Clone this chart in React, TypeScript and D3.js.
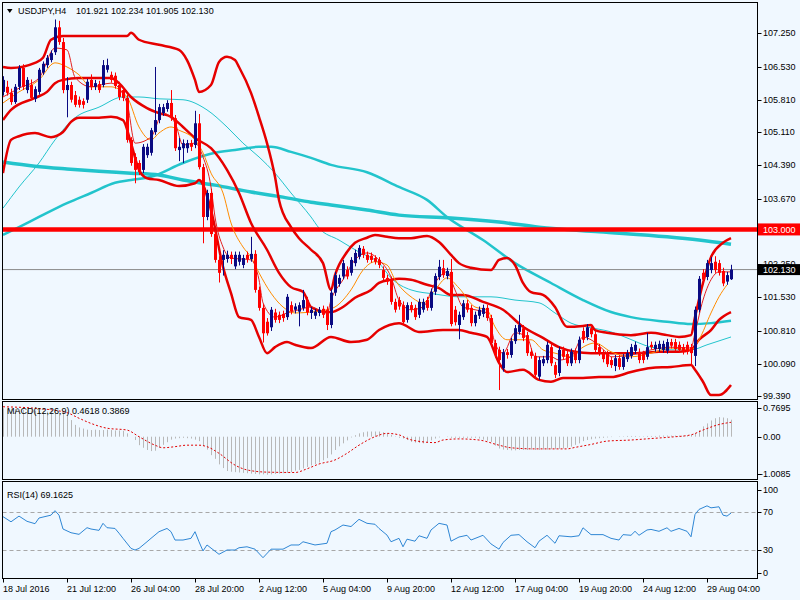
import React from 'react';
import * as d3 from 'd3';

// USDJPY H4, 18 Jul - 30 Aug 2016. candles are [open, high, low, close]
const candles: number[][] = [
  [105.98, 106.32, 105.90, 106.24], [106.09, 106.22, 105.90, 105.96], [105.96, 106.05, 105.70, 105.76], [105.76, 106.15, 105.72, 106.09],
  [106.09, 106.56, 106.02, 106.50], [106.50, 106.58, 106.02, 106.09], [106.02, 106.30, 105.95, 106.24], [106.13, 106.25, 105.80, 105.85],
  [105.83, 106.10, 105.76, 106.04], [105.98, 106.50, 105.92, 106.46], [106.40, 106.64, 106.35, 106.59], [106.56, 106.78, 106.50, 106.72],
  [106.67, 106.88, 106.62, 106.82], [106.84, 107.55, 106.78, 107.38], [107.38, 107.52, 107.00, 107.06], [107.06, 107.15, 105.95, 106.02],
  [106.02, 106.30, 105.43, 106.13], [106.13, 106.20, 105.75, 105.81], [105.91, 106.00, 105.65, 105.70], [105.81, 105.88, 105.64, 105.70],
  [105.78, 105.84, 105.62, 105.70], [105.81, 106.26, 105.74, 106.20], [106.24, 106.36, 106.02, 106.09], [106.09, 106.24, 106.02, 106.17],
  [106.15, 106.22, 105.96, 106.02], [106.13, 106.67, 106.08, 106.56], [106.46, 106.70, 106.40, 106.56], [106.35, 106.42, 106.18, 106.24],
  [106.33, 106.40, 106.05, 106.11], [106.13, 106.20, 105.80, 105.87], [106.02, 106.08, 105.78, 105.85], [105.85, 105.92, 104.88, 104.94],
  [104.94, 105.00, 104.38, 104.44], [104.57, 104.65, 104.00, 104.29], [104.44, 104.50, 104.18, 104.24], [104.29, 104.85, 104.22, 104.79],
  [104.61, 104.86, 104.55, 104.79], [104.66, 105.20, 104.60, 105.15], [105.11, 106.52, 105.05, 105.37], [105.37, 105.72, 105.30, 105.65],
  [105.52, 105.72, 105.46, 105.65], [105.61, 105.80, 105.55, 105.74], [105.74, 106.02, 105.35, 105.41], [105.41, 105.48, 104.70, 104.76],
  [104.72, 104.98, 104.48, 104.79], [104.76, 104.95, 104.44, 104.87], [104.76, 104.94, 104.66, 104.87], [104.87, 104.94, 104.70, 104.79],
  [104.83, 105.57, 104.76, 105.30], [105.30, 105.50, 104.30, 104.35], [104.35, 104.42, 102.70, 103.27], [103.27, 103.86, 103.20, 103.79],
  [103.79, 103.88, 102.84, 102.90], [102.90, 102.97, 102.28, 102.34], [102.34, 102.42, 101.85, 102.06], [102.34, 102.55, 102.00, 102.45],
  [102.36, 102.54, 102.28, 102.45], [102.45, 102.52, 102.25, 102.36], [102.20, 102.52, 102.14, 102.45], [102.30, 102.52, 102.22, 102.45],
  [102.23, 102.45, 102.16, 102.38], [102.45, 102.52, 102.28, 102.36], [102.36, 102.84, 102.30, 102.47], [102.47, 102.55, 101.63, 101.69],
  [101.69, 101.76, 101.24, 101.30], [101.30, 101.38, 100.55, 100.75], [101.00, 101.08, 100.70, 100.75], [100.88, 101.32, 100.80, 101.26],
  [101.20, 101.28, 100.98, 101.04], [101.15, 101.22, 100.97, 101.04], [101.17, 101.24, 101.00, 101.08], [101.10, 101.60, 101.04, 101.54],
  [101.36, 101.44, 101.16, 101.23], [101.26, 101.40, 101.18, 101.33], [101.22, 101.42, 100.90, 101.36], [101.30, 101.69, 101.24, 101.47],
  [101.47, 101.54, 101.14, 101.20], [101.19, 101.32, 101.06, 101.26], [101.13, 101.28, 101.06, 101.22], [101.19, 101.32, 101.12, 101.26],
  [101.28, 101.35, 101.08, 101.15], [101.26, 101.33, 100.82, 100.93], [100.93, 101.70, 100.86, 101.63], [101.63, 102.08, 101.56, 102.01],
  [101.82, 102.02, 101.76, 101.95], [101.98, 102.34, 101.92, 102.27], [102.12, 102.20, 101.92, 101.98], [102.06, 102.40, 102.00, 102.34],
  [102.27, 102.56, 102.20, 102.49], [102.41, 102.66, 102.35, 102.60], [102.58, 102.64, 102.38, 102.45], [102.45, 102.52, 102.28, 102.34],
  [102.43, 102.50, 102.28, 102.34], [102.38, 102.44, 102.24, 102.30], [102.34, 102.40, 102.16, 102.23], [102.12, 102.20, 101.90, 101.95],
  [101.95, 102.02, 101.80, 101.87], [101.91, 101.98, 101.37, 101.43], [101.43, 101.50, 101.20, 101.26], [101.47, 101.54, 101.26, 101.33],
  [101.36, 101.44, 100.92, 100.99], [101.04, 101.42, 100.98, 101.36], [101.36, 101.43, 101.20, 101.26], [101.30, 101.37, 101.04, 101.10],
  [101.15, 101.50, 101.08, 101.43], [101.26, 101.50, 101.20, 101.43], [101.47, 101.54, 101.24, 101.30], [101.30, 101.72, 101.24, 101.65],
  [101.65, 102.05, 101.58, 101.99], [101.97, 102.34, 101.90, 102.19], [102.16, 102.34, 101.95, 102.01], [101.99, 102.17, 101.92, 102.10],
  [102.08, 102.36, 100.90, 100.95], [101.26, 101.34, 100.92, 100.99], [100.93, 101.22, 100.62, 101.15], [101.10, 101.47, 101.04, 101.40],
  [101.40, 101.47, 101.20, 101.26], [101.30, 101.36, 100.90, 100.97], [100.97, 101.22, 100.90, 101.15], [101.13, 101.33, 101.06, 101.26],
  [101.17, 101.37, 101.10, 101.30], [101.30, 101.37, 101.02, 101.08], [101.08, 101.15, 100.48, 100.54], [100.54, 100.61, 100.22, 100.28],
  [100.39, 100.46, 99.52, 100.17], [99.99, 100.41, 99.92, 100.34], [100.34, 100.41, 100.20, 100.28], [100.28, 100.65, 100.22, 100.58],
  [100.58, 100.93, 100.52, 100.86], [100.78, 101.15, 100.72, 100.93], [100.86, 100.93, 100.58, 100.65], [100.71, 100.78, 100.26, 100.32],
  [100.35, 100.42, 100.20, 100.26], [100.26, 100.33, 99.78, 99.85], [99.81, 100.24, 99.74, 100.17], [100.10, 100.26, 100.04, 100.19],
  [100.17, 100.57, 100.10, 100.50], [100.45, 100.52, 100.04, 100.10], [100.06, 100.13, 99.78, 99.85], [99.89, 100.46, 99.82, 100.39],
  [100.39, 100.46, 100.18, 100.24], [100.30, 100.37, 100.04, 100.10], [100.10, 100.42, 100.04, 100.35], [100.35, 100.42, 100.10, 100.17],
  [100.17, 100.68, 100.10, 100.61], [100.80, 100.88, 100.54, 100.61], [100.67, 100.95, 100.60, 100.88], [100.86, 100.93, 100.66, 100.73],
  [100.73, 100.80, 100.33, 100.39], [100.45, 100.52, 100.26, 100.32], [100.32, 100.39, 100.12, 100.19], [100.30, 100.37, 100.02, 100.08],
  [100.17, 100.24, 100.00, 100.06], [100.04, 100.28, 99.93, 100.21], [100.21, 100.28, 99.96, 100.02], [100.02, 100.30, 99.96, 100.24],
  [100.19, 100.39, 100.13, 100.32], [100.26, 100.52, 100.20, 100.45], [100.37, 100.57, 100.30, 100.50], [100.35, 100.42, 100.10, 100.17],
  [100.30, 100.37, 100.10, 100.17], [100.24, 100.76, 100.18, 100.45], [100.50, 100.57, 100.40, 100.45], [100.41, 100.57, 100.35, 100.50],
  [100.41, 100.59, 100.35, 100.52], [100.39, 100.59, 100.33, 100.52], [100.37, 100.63, 100.31, 100.56], [100.56, 100.63, 100.42, 100.48],
  [100.56, 100.63, 100.35, 100.41], [100.50, 100.57, 100.33, 100.39], [100.45, 100.52, 100.29, 100.35], [100.50, 100.57, 100.29, 100.35],
  [100.45, 100.52, 100.05, 100.32], [100.26, 101.33, 100.04, 101.26], [101.26, 101.99, 101.20, 101.93], [102.06, 102.14, 101.85, 101.91],
  [101.97, 102.34, 101.90, 102.27], [102.12, 102.40, 102.05, 102.27], [102.30, 102.42, 102.06, 102.12], [102.27, 102.34, 102.00, 102.06],
  [102.10, 102.17, 101.77, 101.83], [101.87, 102.08, 101.80, 102.01], [101.921, 102.234, 101.905, 102.130],
];

// indicator lines, read as [bar index, price]
const bbUpper = [
  [0, 106.52], [2, 106.50], [8, 106.61], [10, 106.72], [12, 107.11], [15, 107.19], [31, 107.19], [32, 107.26], [34, 107.11],
  [39, 107.00], [44, 106.89], [46, 106.67], [48, 106.24], [49, 105.98], [52, 106.13], [54, 106.63], [56, 106.74], [58, 106.67],
  [59, 106.52], [62, 105.96], [64, 105.44], [66, 104.87], [68, 104.14], [69, 103.64], [72, 103.05], [74, 102.81], [77, 102.56],
  [80, 102.27], [82, 101.69], [83, 102.01], [86, 102.51], [88, 102.71], [91, 102.82], [93, 102.88], [96, 102.84], [99, 102.81],
  [102, 102.81], [106, 102.86], [109, 102.73], [112, 102.45], [114, 102.27], [117, 102.17], [122, 102.12], [124, 102.34],
  [126, 102.38], [128, 102.23], [130, 101.84], [132, 101.64], [135, 101.58], [138, 101.32], [141, 100.89], [145, 100.91],
  [147, 100.93], [148, 100.82], [151, 100.76], [157, 100.71], [162, 100.76], [166, 100.71], [169, 100.67], [172, 100.71],
  [173, 101.10], [175, 101.84], [177, 102.40], [180, 102.71], [182, 102.81],
];
const bbMiddle = [
  [0, 105.37], [2, 105.59], [8, 105.85], [11, 105.98], [13, 106.17], [15, 106.24], [19, 106.28], [27, 106.28], [29, 106.17],
  [32, 105.87], [36, 105.63], [39, 105.52], [42, 105.44], [45, 105.22], [48, 104.98], [52, 104.76], [56, 104.29], [59, 103.79],
  [62, 103.14], [66, 102.56], [69, 102.06], [72, 101.75], [75, 101.65], [77, 101.32], [81, 101.21], [82, 101.21], [85, 101.32],
  [88, 101.52], [92, 101.69], [94, 101.84], [97, 101.91], [99, 101.93], [102, 101.91], [106, 101.80], [109, 101.73], [112, 101.58],
  [115, 101.58], [120, 101.43], [125, 101.26], [130, 100.89], [135, 100.65], [139, 100.45], [143, 100.35], [147, 100.32],
  [152, 100.32], [159, 100.32], [164, 100.35], [169, 100.35], [172, 100.39], [174, 100.61], [177, 100.82], [179, 101.04], [182, 101.21],
];
const bbLower = [
  [0, 104.22], [2, 104.94], [4, 105.02], [8, 105.09], [12, 105.00], [15, 105.11], [17, 105.33], [19, 105.42], [24, 105.42],
  [27, 105.44], [30, 105.37], [32, 104.87], [34, 104.29], [36, 104.11], [39, 104.07], [44, 103.94], [48, 104.00], [49, 104.07],
  [52, 103.42], [55, 102.19], [57, 101.62], [59, 101.10], [62, 101.04], [64, 100.67], [66, 100.32], [68, 100.45], [71, 100.56],
  [73, 100.50], [77, 100.43], [82, 100.67], [87, 100.56], [91, 100.61], [94, 100.82], [99, 100.97], [104, 100.78], [110, 100.82],
  [114, 100.82], [117, 100.76], [121, 100.67], [124, 100.11], [126, 99.91], [130, 99.96], [134, 99.74], [137, 99.70], [140, 99.78],
  [145, 99.78], [149, 99.80], [152, 99.80], [157, 99.91], [162, 100.00], [167, 100.02], [172, 100.06], [173, 99.96], [175, 99.70],
  [177, 99.41], [179, 99.41], [182, 99.63],
];
const maSlow = [
  [0, 104.46], [8, 104.37], [16, 104.31], [24, 104.26], [32, 104.22], [39, 104.18], [45, 104.07], [53, 103.96], [62, 103.81],
  [70, 103.70], [77, 103.59], [82, 103.53], [91, 103.42], [99, 103.31], [112, 103.25], [124, 103.16], [134, 103.05],
  [149, 102.95], [166, 102.84], [174, 102.77], [182, 102.68],
];
const maMid = [
  [0, 102.88], [4, 103.05], [9, 103.27], [16, 103.57], [22, 103.79], [28, 104.01], [32, 104.07], [37, 104.14], [45, 104.44],
  [53, 104.66], [58, 104.72], [64, 104.79], [67, 104.79], [72, 104.68], [77, 104.55], [82, 104.40], [91, 104.24], [99, 103.92],
  [106, 103.64], [111, 103.27], [120, 102.77], [128, 102.27], [137, 101.84], [145, 101.47], [152, 101.21], [157, 101.10],
  [166, 101.00], [172, 100.95], [177, 100.97], [182, 101.02],
];
const maThin = [
  [0, 103.46], [4, 103.92], [9, 104.44], [13, 104.94], [18, 105.42], [24, 105.65], [30, 105.87], [34, 105.87], [39, 105.83],
  [45, 105.81], [51, 105.59], [56, 105.22], [60, 104.87], [64, 104.57], [68, 104.22], [72, 103.79], [77, 103.27], [79, 103.03],
  [84, 102.77], [89, 102.51], [94, 102.27], [97, 101.95], [102, 101.69], [108, 101.60], [114, 101.54], [122, 101.54],
  [128, 101.47], [134, 101.41], [138, 101.19], [142, 100.97], [147, 100.87], [152, 100.78], [156, 100.65], [162, 100.45],
  [168, 100.39], [172, 100.39], [176, 100.50], [182, 100.67],
];
const emaOrange = [
  [0, 105.74], [4, 105.98], [9, 106.24], [13, 106.61], [16, 106.52], [19, 106.35], [22, 106.09], [27, 106.09], [31, 105.87],
  [34, 105.22], [37, 104.94], [39, 105.09], [42, 105.22], [44, 105.15], [48, 104.94], [50, 104.66], [52, 104.22], [55, 103.79],
  [57, 103.14], [60, 102.62], [62, 102.40], [64, 102.06], [67, 101.62], [70, 101.32], [73, 101.19], [77, 101.21], [81, 101.26],
  [83, 101.32], [87, 101.69], [90, 102.12], [93, 102.30], [96, 102.23], [98, 101.91], [102, 101.54], [105, 101.41], [108, 101.69],
  [111, 101.95], [114, 101.73], [118, 101.32], [121, 101.26], [123, 100.89], [126, 100.61], [128, 100.61], [132, 100.61],
  [135, 100.39], [138, 100.32], [142, 100.24], [145, 100.45], [148, 100.54], [152, 100.35], [157, 100.24], [162, 100.32],
  [167, 100.43], [172, 100.39], [174, 100.61], [177, 101.19], [179, 101.54], [181, 101.80],
];
const emaRed = [
  [0, 105.87], [4, 106.06], [9, 106.28], [13, 106.93], [16, 106.89], [18, 106.30], [22, 106.09], [27, 106.17], [31, 105.74],
  [33, 104.87], [37, 105.00], [40, 105.52], [43, 105.31], [45, 104.83], [48, 104.87], [50, 104.57], [52, 103.92], [53, 103.27],
  [55, 102.62], [57, 102.38], [62, 102.34], [64, 101.91], [65, 101.41], [68, 101.10], [71, 101.19], [74, 101.26], [77, 101.32],
  [81, 101.19], [82, 101.47], [85, 101.91], [88, 102.34], [91, 102.49], [94, 102.34], [97, 101.97], [99, 101.47], [102, 101.26],
  [105, 101.32], [108, 101.84], [111, 102.08], [113, 101.69], [115, 101.32], [118, 101.26], [121, 101.19], [123, 100.54],
  [125, 100.32], [128, 100.76], [131, 100.67], [133, 100.24], [137, 100.24], [139, 100.17], [142, 100.24], [145, 100.67],
  [147, 100.61], [151, 100.32], [152, 100.24], [157, 100.28], [162, 100.39], [167, 100.45], [172, 100.43], [173, 100.76],
  [175, 101.47], [177, 101.91], [179, 102.08], [182, 102.08],
];

const supportLevel = 103.0;
const bidPrice = 102.13;
// 102.950 sits under the red 103.000 box in the reference, so its label is not drawn
const priceTicks = [107.25, 106.53, 105.81, 105.11, 104.39, 103.67, 102.95, 102.25, 101.53, 100.81, 100.09, 99.39];
const hiddenTicks = [102.95];

// MACD(12,26,9): main line per bar (histogram) and signal samples
const macdMain = [
  0.77, 0.76, 0.76, 0.75, 0.74, 0.73, 0.72, 0.71, 0.70, 0.70,
  0.69, 0.68, 0.67, 0.66, 0.65, 0.62, 0.59, 0.45, 0.32, 0.25,
  0.22, 0.19, 0.18, 0.19, 0.18, 0.18, 0.19, 0.18, 0.17, 0.17,
  0.16, 0.09, 0.00, -0.09, -0.23, -0.30, -0.36, -0.39, -0.38, -0.30,
  -0.22, -0.15, -0.08, -0.05, -0.04, -0.03, -0.04, -0.05, -0.08, -0.12,
  -0.25, -0.35, -0.50, -0.60, -0.75, -0.85, -0.93, -0.95, -0.96, -0.97,
  -0.98, -0.99, -1.00, -1.01, -1.02, -1.02, -1.03, -1.02, -1.01, -1.00,
  -0.99, -0.98, -0.96, -0.92, -0.90, -0.86, -0.82, -0.78, -0.74, -0.70,
  -0.64, -0.58, -0.48, -0.36, -0.26, -0.18, -0.10, -0.02, 0.04, 0.09,
  0.12, 0.14, 0.14, 0.14, 0.14, 0.12, 0.10, 0.05, 0.01, -0.03,
  -0.05, -0.09, -0.14, -0.16, -0.17, -0.18, -0.15, -0.10, -0.05, -0.02,
  0.00, -0.01, -0.03, -0.03, -0.03, -0.03, -0.03, -0.03, -0.03, -0.05,
  -0.08, -0.11, -0.14, -0.24, -0.32, -0.35, -0.36, -0.37, -0.37, -0.36,
  -0.36, -0.36, -0.35, -0.36, -0.36, -0.35, -0.35, -0.34, -0.34, -0.33,
  -0.32, -0.30, -0.27, -0.22, -0.18, -0.12, -0.09, -0.07, -0.05, -0.04,
  -0.03, -0.02, -0.01, 0.00, 0.01, 0.01, 0.02, 0.02, 0.02, 0.01,
  0.01, 0.02, 0.02, 0.02, 0.03, 0.03, 0.03, 0.03, 0.03, 0.03,
  0.03, 0.03, 0.05, 0.10, 0.18, 0.28, 0.36, 0.44, 0.50, 0.53,
  0.52, 0.50, 0.46,
];
const macdSignal = [
  [0, 0.81], [8, 0.77], [16, 0.65], [19, 0.50], [22, 0.36], [26, 0.23], [31, 0.18], [34, 0.0], [38, -0.23], [40, -0.30],
  [43, -0.27], [46, -0.23], [49, -0.23], [51, -0.27], [54, -0.45], [58, -0.77], [61, -0.90], [66, -0.96], [73, -0.97],
  [76, -0.87], [79, -0.74], [83, -0.63], [86, -0.45], [89, -0.23], [93, 0.0], [96, 0.09], [99, 0.05], [101, -0.05],
  [105, -0.14], [108, -0.16], [110, -0.09], [114, -0.06], [119, -0.09], [124, -0.23], [127, -0.30], [133, -0.33],
  [141, -0.33], [143, -0.29], [147, -0.21], [151, -0.12], [157, -0.09], [162, -0.05], [167, -0.01], [172, 0.05],
  [175, 0.18], [179, 0.33], [182, 0.39],
];
const macdTicks = [0.7695, 0, -1.0085];

// RSI(14) samples [bar index, value]
const rsi = [
  [0, 65.4], [2, 60], [4, 66], [6, 60.5], [8, 58], [9, 64], [12, 67], [13, 71.7], [14, 67], [15, 52.4], [17, 48.5], [19, 46.8],
  [21, 53.8], [22, 52.4], [24, 51], [25, 58.4], [26, 53.8], [28, 53], [29, 48], [30, 42.6], [32, 32], [33, 30.3], [34, 32],
  [36, 39], [37, 42.6], [39, 49.6], [41, 53], [42, 49.6], [43, 40.8], [45, 40.8], [47, 42.6], [48, 49.6], [49, 39], [50, 29.3],
  [51, 35.6], [54, 25.8], [56, 30.3], [58, 30.3], [59, 32.7], [61, 33.7], [63, 31.2], [65, 22.2], [67, 31.2], [70, 31.2],
  [72, 35.6], [74, 35.6], [75, 39], [78, 35.6], [81, 37.4], [82, 49.6], [83, 51.4], [85, 56.6], [87, 55], [89, 62.6], [91, 58.4],
  [93, 57.4], [94, 53], [96, 46], [97, 39], [99, 42.6], [100, 33.7], [101, 41.7], [103, 39.6], [104, 45.3], [106, 42.6],
  [107, 51.4], [109, 58.4], [111, 56.6], [112, 39.6], [114, 44], [116, 45.8], [117, 40.8], [120, 45.8], [122, 36.7], [124, 31.2],
  [125, 38.2], [127, 45.8], [129, 46.5], [131, 39], [133, 32.7], [134, 39.6], [136, 45.8], [138, 37.4], [139, 45.3], [142, 44.2],
  [144, 45.3], [145, 53.7], [147, 46.5], [150, 46.5], [152, 42.6], [154, 40.8], [155, 46.5], [157, 45.8], [158, 50], [159, 45.8],
  [161, 51.4], [162, 52], [164, 50], [166, 53.7], [167, 50], [169, 53], [171, 50], [172, 44.2], [173, 67.7], [174, 73],
  [176, 76.8], [177, 74.7], [179, 75.8], [180, 67], [181, 66], [182, 69.16],
];
const rsiTicks = [100, 70, 30, 0];
const rsiLevels = [70, 30];

const dateTicks: [number, string][] = [
  [0, '18 Jul 2016'], [16, '21 Jul 12:00'], [32, '26 Jul 04:00'], [48, '28 Jul 20:00'], [64, '2 Aug 12:00'], [80, '5 Aug 04:00'],
  [96, '9 Aug 20:00'], [112, '12 Aug 12:00'], [128, '17 Aug 04:00'], [144, '19 Aug 20:00'], [160, '24 Aug 12:00'], [176, '29 Aug 04:00'],
];

const FONT = '"Liberation Sans", Arial, sans-serif';
const BG = '#f0f8ff';
const L = 2.5, R = 757.5;
const main = { top: 2.5, bottom: 399.5 };
const macdP = { top: 401.5, bottom: 479.5 };
const rsiP = { top: 481.5, bottom: 578.5 };

export default function App() {
  const x = d3.scaleLinear().domain([0, candles.length - 1]).range([3, 731]);
  const y = d3.scaleLinear().domain([99.326, 107.928]).range([399, 2]);
  const yM = d3.scaleLinear().domain([-1.146, 0.967]).range([479, 401]);
  const yR = d3.scaleLinear().domain([0, 100]).range([578.8, 483.8]);

  const smooth = (ys: d3.ScaleLinear<number, number>) =>
    d3.line<number[]>().x(d => x(d[0])).y(d => ys(d[1])).curve(d3.curveMonotoneX);
  const pLine = smooth(y);
  const rsiLine = d3.line<number[]>().x(d => x(d[0])).y(d => yR(d[1]));
  const sigLine = smooth(yM);
  const fmt3 = d3.format('.3f');

  const text = { fontFamily: FONT, fontSize: 9, fill: '#000' } as const;

  return (
    <svg width={800} height={600} style={{ position: 'absolute', left: 0, top: 0, background: BG }}>
      <defs>
        <clipPath id="cMain"><rect x={L} y={main.top} width={R - L} height={main.bottom - main.top} /></clipPath>
        <clipPath id="cMacd"><rect x={L} y={macdP.top} width={R - L} height={macdP.bottom - macdP.top} /></clipPath>
        <clipPath id="cRsi"><rect x={L} y={rsiP.top} width={R - L} height={rsiP.bottom - rsiP.top} /></clipPath>
      </defs>
      <rect width={800} height={600} fill={BG} />

      {/* main price panel */}
      <g clipPath="url(#cMain)">
        <path d={pLine(maSlow) || ''} fill="none" stroke="#22c4cc" strokeWidth={3.5} />
        <path d={pLine(maMid) || ''} fill="none" stroke="#22c4cc" strokeWidth={2.5} />
        <path d={pLine(maThin) || ''} fill="none" stroke="#22c4cc" strokeWidth={1} />
        <line x1={L} x2={R} y1={y(bidPrice)} y2={y(bidPrice)} stroke="#8a8a8a" strokeWidth={1} />
        <line x1={0} x2={R} y1={y(supportLevel)} y2={y(supportLevel)} stroke="#ff0000" strokeWidth={4.5} />
        {[bbUpper, bbMiddle, bbLower].map((b, k) => (
          <path key={k} d={pLine(b) || ''} fill="none" stroke="#e60000" strokeWidth={2.5} />
        ))}
        <path d={pLine(emaOrange) || ''} fill="none" stroke="#ff8c00" strokeWidth={1} />
        <path d={pLine(emaRed) || ''} fill="none" stroke="#e32020" strokeWidth={1} />
        {candles.map((c, i) => {
          const [o, h, l, cl] = c;
          const cx = Math.round(x(i));
          const up = cl >= o;
          const col = up ? '#0a0a82' : '#ff0000';
          const top = y(Math.max(o, cl));
          const bh = Math.max(1, y(Math.min(o, cl)) - top);
          return (
            <g key={i}>
              <line x1={cx + 0.5} x2={cx + 0.5} y1={y(h)} y2={y(l)} stroke={col} strokeWidth={1} />
              <rect x={cx - 1} y={top} width={3} height={bh} fill={col} />
            </g>
          );
        })}
      </g>

      {/* MACD panel */}
      <g clipPath="url(#cMacd)">
        {macdMain.map((v, i) => (
          <line key={i} x1={Math.round(x(i)) + 0.5} x2={Math.round(x(i)) + 0.5} y1={yM(0)} y2={yM(v)}
            stroke="#b8b8b8" strokeWidth={1} />
        ))}
        <path d={sigLine(macdSignal) || ''} fill="none" stroke="#e00000" strokeWidth={1} strokeDasharray="2,2" />
      </g>

      {/* RSI panel */}
      <g clipPath="url(#cRsi)">
        {rsiLevels.map(v => (
          <line key={v} x1={L} x2={R} y1={Math.round(yR(v)) + 0.5} y2={Math.round(yR(v)) + 0.5}
            stroke="#a8a8a8" strokeWidth={1} strokeDasharray="4,3" />
        ))}
        <path d={rsiLine(rsi) || ''} fill="none" stroke="#2e86d4" strokeWidth={1} />
      </g>

      {/* frames */}
      <rect x={L} y={main.top} width={R - L} height={main.bottom - main.top} fill="none" stroke="#000" />
      <rect x={L} y={macdP.top} width={R - L} height={macdP.bottom - macdP.top} fill="none" stroke="#000" />
      <rect x={L} y={rsiP.top} width={R - L} height={rsiP.bottom - rsiP.top} fill="none" stroke="#000" />

      {/* price axis */}
      {priceTicks.map(p => (
        <g key={p}>
          <line x1={R} x2={R + 4} y1={Math.round(y(p)) + 0.5} y2={Math.round(y(p)) + 0.5} stroke="#000" />
          {!hiddenTicks.includes(p) && <text x={763} y={y(p)} dy="0.35em" {...text}>{fmt3(p)}</text>}
        </g>
      ))}
      <rect x={R + 0.5} y={y(supportLevel) - 6} width={42} height={12} fill="#ff0000" />
      <text x={763} y={y(supportLevel)} dy="0.35em" {...text} fill="#fff">{fmt3(supportLevel)}</text>
      <rect x={R + 0.5} y={y(bidPrice) - 5.5} width={42} height={11} fill="#000" />
      <text x={763} y={y(bidPrice)} dy="0.35em" {...text} fill="#fff">{fmt3(bidPrice)}</text>

      {/* MACD axis */}
      {macdTicks.map(v => (
        <g key={v}>
          <line x1={R} x2={R + 4} y1={Math.round(yM(v)) + 0.5} y2={Math.round(yM(v)) + 0.5} stroke="#000" />
          <text x={v < 0 ? 760 : 763} y={yM(v)} dy="0.35em" {...text}>{v === 0 ? '0.00' : String(v)}</text>
        </g>
      ))}

      {/* RSI axis */}
      {rsiTicks.map(v => {
        const ty = Math.min(572.5, Math.max(489.5, yR(v)));
        return (
          <g key={v}>
            <line x1={R} x2={R + 4} y1={Math.round(ty) + 0.5} y2={Math.round(ty) + 0.5} stroke="#000" />
            <text x={763} y={ty} dy="0.35em" {...text}>{v}</text>
          </g>
        );
      })}

      {/* time axis */}
      {dateTicks.map(([i, lab]) => (
        <g key={i}>
          <line x1={Math.round(x(i)) + 0.5} x2={Math.round(x(i)) + 0.5} y1={rsiP.bottom} y2={rsiP.bottom + 4} stroke="#000" />
          <text x={Math.round(x(i))} y={592} {...text}>{lab}</text>
        </g>
      ))}

      {/* headers */}
      <path d="M7,9 L12.5,9 L9.75,13 Z" fill="#000" />
      <text x={18} y={14} {...text}>USDJPY,H4</text>
      <text x={76} y={14} {...text}>101.921 102.234 101.905 102.130</text>
      <text x={7} y={414} {...text}>MACD(12,26,9) 0.4618 0.3869</text>
      <text x={7} y={498} {...text}>RSI(14) 69.1625</text>
    </svg>
  );
}
